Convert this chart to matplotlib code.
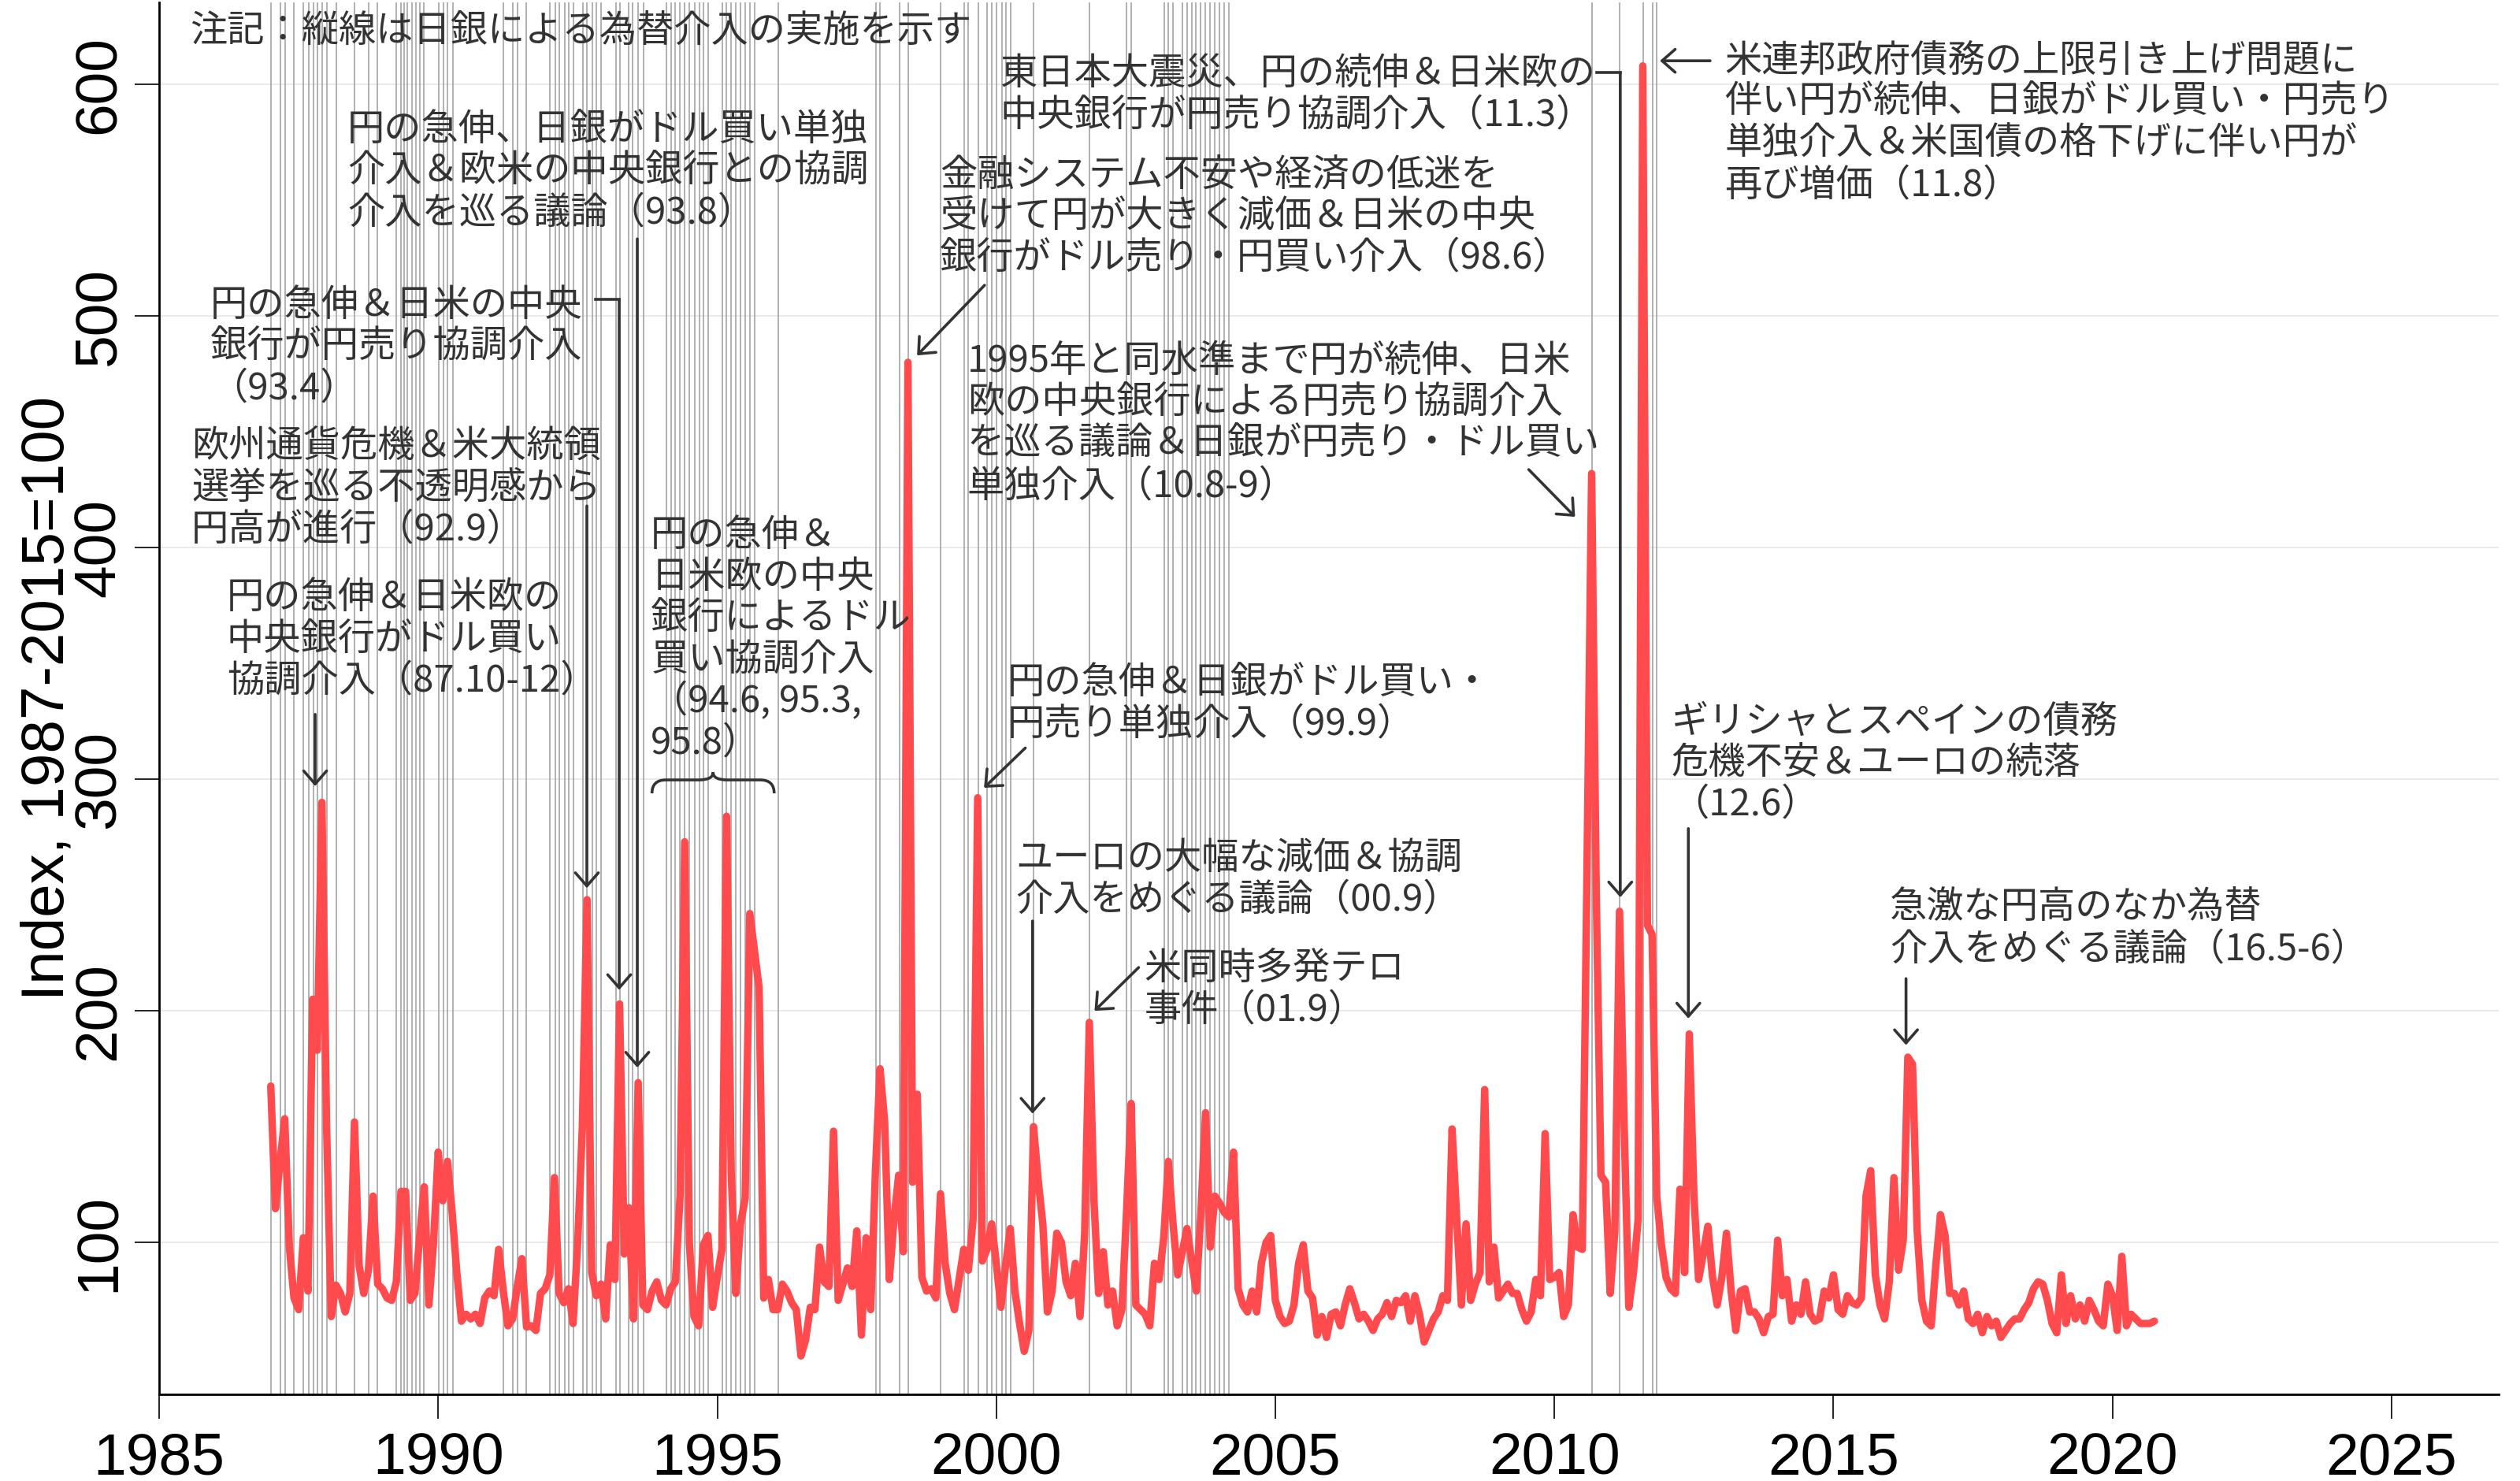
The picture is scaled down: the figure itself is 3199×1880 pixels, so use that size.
import numpy as np
import matplotlib
matplotlib.use('Agg')
import matplotlib.pyplot as plt
from matplotlib.path import Path
from matplotlib.patches import PathPatch

plt.rcParams['font.family'] = ['Liberation Sans', 'Noto Sans CJK JP', 'DejaVu Sans']
JP = ['Noto Sans CJK JP', 'DejaVu Sans']

# ---------------- data (monthly index, Jan 1987 start) ----------------
start_year = 1987
v1987_1990 = [167.5, 114.6, 135, 153.4, 98, 76, 71, 102, 79, 205, 183, 290,
              150, 68, 81.6, 78, 70, 78, 152, 90, 78, 88, 120, 82,
              80, 76, 75, 83, 122, 122, 75, 78, 102, 124, 73, 100,
              139, 118, 135, 113, 87, 66, 69, 67, 69, 65, 76, 79]
v1991_1994 = [77, 97, 79, 64, 67, 81, 93, 63.5, 64, 62, 78, 80,
              86, 128, 78, 74, 80, 65, 100, 150, 248, 87, 77, 82,
              67, 99, 84, 203, 95, 115, 67, 169, 73, 71, 79, 83,
              75, 73, 80, 83, 120, 273, 100, 68, 64, 99, 103, 72]
v1995_1998 = [85, 97, 284, 130, 78, 108, 119, 242, 226, 210, 76, 84,
              71, 71, 82, 79, 74, 71, 51, 58, 72, 71, 98, 83,
              81, 148, 75, 82, 89, 81, 105, 60, 102, 71, 130, 175,
              152, 84, 110, 129, 96, 480, 126, 164, 85, 79, 80, 76]
v1999_2002 = [121, 91, 78, 71, 84, 97, 88, 110, 292, 92, 97, 108,
              91, 72, 90, 106, 79, 65, 53, 62, 150, 127, 108, 70,
              79, 104, 100, 83, 77, 91, 68, 104, 195, 118, 78, 96,
              73, 79, 64, 71, 113, 160, 73, 71, 69, 64, 91, 84]
v2003_2006 = [102, 135, 108, 86, 96, 106, 92, 79, 113, 156, 98, 120,
              117, 113, 111, 139, 80, 73, 70, 79, 70, 91, 100, 103,
              75, 68, 65, 66, 73, 91, 99, 79, 76, 60, 68, 59,
              69, 70, 64, 73, 80, 74, 67, 69, 66, 62, 67, 69]
v2007_2010 = [74, 68, 75, 74, 77, 66, 77, 69, 57, 62, 67, 70,
              77, 75, 149, 110, 73, 108, 75, 82, 87, 166, 83, 98,
              76, 79, 82, 78, 78, 71, 66, 70, 84, 77, 147, 84,
              85, 87, 68, 73, 112, 98, 97, 260, 432, 250, 129, 126]
v2011_2014 = [78, 105, 243, 150, 72, 87, 110, 608, 237, 233, 120, 99,
              85, 80, 78, 123, 87, 190, 120, 84, 95, 107, 85, 73,
              85, 104, 79, 62, 79, 80, 70, 70, 67, 61, 68, 69,
              101, 77, 84, 66, 73, 69, 83, 69, 66, 67, 79, 76]
v2015_2018 = [86, 71, 69, 77, 74, 73, 76, 120, 131, 86, 73, 67,
              83, 128, 88, 101, 180, 177, 105, 75, 66, 64, 90, 112,
              103, 78, 78, 73, 79, 67, 65, 69, 61, 68, 64, 66,
              59, 62, 65, 67, 67, 71, 74, 80, 83, 82, 75, 65]
v2019_2020 = [61, 86, 65, 77, 67, 73, 66, 75, 71, 66, 64, 82,
              77, 62, 94, 64, 69, 67, 65, 65, 65, 66]

# BOJ intervention dates (decimal years)
interventions = [1987.004, 1987.169, 1987.254, 1987.418, 1987.583, 1987.677, 1987.762, 1987.832, 1987.926,
                 1988.006, 1988.171, 1988.50, 1988.759, 1988.914,
                 1989.253, 1989.338, 1989.394, 1989.451, 1989.526, 1989.606, 1989.676, 1989.747,
                 1990.006, 1990.100, 1990.170, 1990.265,
                 1991.172, 1991.337, 1991.417, 1991.582,
                 1992.005, 1992.100, 1992.170, 1992.264, 1992.335, 1992.429, 1992.593, 1992.664,
                 1992.758, 1992.829, 1992.923,
                 1993.182, 1993.253, 1993.418, 1993.488, 1993.583, 1993.676,
                 1994.090, 1994.170, 1994.249, 1994.334, 1994.419, 1994.499, 1994.593, 1994.678,
                 1994.758, 1994.838,
                 1995.087, 1995.167, 1995.251, 1995.336, 1995.416, 1995.501, 1995.590, 1995.666,
                 1996.089, 1997.840, 1997.910, 1998.263, 1998.427,
                 1999.001, 1999.425, 1999.500, 1999.675, 1999.839, 1999.924,
                 2000.004, 2000.098, 2000.169, 2000.253, 2000.663, 2001.667, 2002.334, 2002.419,
                 2003.007, 2003.087, 2003.172, 2003.332, 2003.416, 2003.501, 2003.580, 2003.665,
                 2003.744, 2003.829, 2003.918, 2004.003, 2004.087, 2004.167,
                 2010.669, 2011.168, 2011.587, 2011.756, 2011.826]

x_ticks = [1985, 1990, 1995, 2000, 2005, 2010, 2015, 2020, 2025]
y_ticks = [100, 200, 300, 400, 500, 600]
y_label = 'Index, 1987-2015=100'

series = (v1987_1990 + v1991_1994 + v1995_1998 + v1999_2002 + v2003_2006 +
          v2007_2010 + v2011_2014 + v2015_2018 + v2019_2020)
x = start_year + np.arange(len(series)) / 12.0

# ---------------- figure ----------------
fig = plt.figure(figsize=(31.99, 18.80), dpi=100)
ax = fig.add_axes([0.06315, 0.0585, 0.92841, 0.9397])
ax.set_xlim(1985, 2026.92)
ax.set_ylim(34.4, 635.3)

ax.set_yticks(y_ticks)
ax.set_xticks(x_ticks)
ax.grid(axis='y', color='#e8e8e8', lw=1.3, zorder=0)
ax.set_axisbelow(True)

for d in interventions:
    ax.axvline(d, color='#9c9c9c', lw=1.1, zorder=1)

ax.plot(x, series, color='#FF4B4E', lw=6.8, solid_joinstyle='round',
        solid_capstyle='round', zorder=3)

for s in ['top', 'right']:
    ax.spines[s].set_visible(False)
for s in ['left', 'bottom']:
    ax.spines[s].set_linewidth(2.0)
    ax.spines[s].set_color('black')

ax.tick_params(axis='both', direction='out', length=22, width=1.2, labelsize=54, colors='black')
ax.tick_params(axis='x', pad=12)
ax.tick_params(axis='y', pad=8)
for lab in ax.get_yticklabels():
    lab.set_rotation(90)
    lab.set_va('center')
ax.set_ylabel(y_label, fontsize=55, labelpad=-4)

TXT = dict(fontsize=34, color='#333333', family=JP, ha='left', va='top',
           linespacing=1.11, zorder=5)
ARW = dict(arrowstyle='->,head_length=0.4,head_width=0.35', lw=2.6, color='#333333',
           shrinkA=0, shrinkB=0, mutation_scale=30)

def arrow(tail, tip):
    ax.annotate('', xy=tip, xytext=tail, arrowprops=ARW, zorder=5)

ax.text(1985.55, 630.8, '注記：縦線は日銀による為替介入の実施を示す', **TXT)

ax.text(1988.37, 588.5, '円の急伸、日銀がドル買い単独\n介入＆欧米の中央銀行との協調\n介入を巡る議論（93.8）', **TXT)
arrow((1993.567, 533.3), (1993.567, 175.5))

ax.text(1985.92, 512.9, '円の急伸＆日米の中央\n銀行が円売り協調介入\n（93.4）', **TXT)
ax.plot([1992.82, 1993.243], [507.1, 507.1], color='#333333', lw=2.6, zorder=5)
arrow((1993.243, 507.1), (1993.243, 209))

ax.text(1985.58, 451.8, '欧州通貨危機＆米大統領\n選挙を巡る不透明感から\n円高が進行（92.9）', **TXT)
arrow((1992.664, 418.0), (1992.664, 253))

ax.text(1986.21, 386.6, '円の急伸＆日米欧の\n中央銀行がドル買い\n協調介入（87.10-12）', **TXT)
arrow((1987.795, 328), (1987.795, 297))

ax.text(1993.81, 413.5, '円の急伸＆\n日米欧の中央\n銀行によるドル\n買い協調介入\n（94.6, 95.3,\n95.8）', **TXT)
bx0, bx1, by0, byh, byt = 1993.83, 1996.02, 293.9, 299.7, 303.0
bxm, bdx = (bx0 + bx1) / 2, 0.25
brace = Path([(bx0, by0), (bx0, byh), (bx0 + bdx, byh), (bxm - bdx, byh), (bxm, byh), (bxm, byt),
              (bxm, byh), (bxm + bdx, byh), (bx1 - bdx, byh), (bx1, byh), (bx1, by0)],
             [Path.MOVETO, Path.CURVE3, Path.CURVE3, Path.LINETO, Path.CURVE3, Path.CURVE3,
              Path.CURVE3, Path.CURVE3, Path.LINETO, Path.CURVE3, Path.CURVE3])
ax.add_patch(PathPatch(brace, fill=False, lw=2.6, edgecolor='#333333', zorder=5))

ax.text(1998.99, 569.1, '金融システム不安や経済の低迷を\n受けて円が大きく減価＆日米の中央\n銀行がドル売り・円買い介入（98.6）', **TXT)
arrow((1999.79, 513.3), (1998.58, 483))

ax.text(2000.06, 612.8, '東日本大震災、円の続伸＆日米欧の\n中央銀行が円売り協調介入（11.3）', **TXT)
ax.plot([2010.76, 2011.18], [605.1, 605.1], color='#333333', lw=2.6, zorder=5)
arrow((2011.18, 605.1), (2011.18, 249))

ax.text(2013.05, 618.4, '米連邦政府債務の上限引き上げ問題に\n伴い円が続伸、日銀がドル買い・円売り\n単独介入＆米国債の格下げに伴い円が\n再び増価（11.8）', **TXT)
arrow((2012.79, 610.2), (2011.89, 610.2))

ax.text(1999.48, 488.6, '1995年と同水準まで円が続伸、日米\n欧の中央銀行による円売り協調介入\nを巡る議論＆日銀が円売り・ドル買い\n単独介入（10.8-9）', **TXT)
arrow((2009.54, 433.7), (2010.37, 413.3))

ax.text(2000.20, 349.8, '円の急伸＆日銀がドル買い・\n円売り単独介入（99.9）', **TXT)
arrow((2000.52, 313.5), (1999.78, 296.3))

ax.text(2000.35, 274.1, 'ユーロの大幅な減価＆協調\n介入をめぐる議論（00.9）', **TXT)
arrow((2000.65, 238.8), (2000.65, 155.6))

ax.text(2002.65, 226.3, '米同時多発テロ\n事件（01.9）', **TXT)
arrow((2002.55, 218.7), (2001.76, 200))

ax.text(2012.10, 333.1, 'ギリシャとスペインの債務\n危機不安＆ユーロの続落\n（12.6）', **TXT)
arrow((2012.40, 278.7), (2012.40, 196.7))

ax.text(2016.01, 252.7, '急激な円高のなか為替\n介入をめぐる議論（16.5-6）', **TXT)
arrow((2016.30, 213.9), (2016.30, 185.2))

fig.savefig('out.png', dpi=100, facecolor='white')
